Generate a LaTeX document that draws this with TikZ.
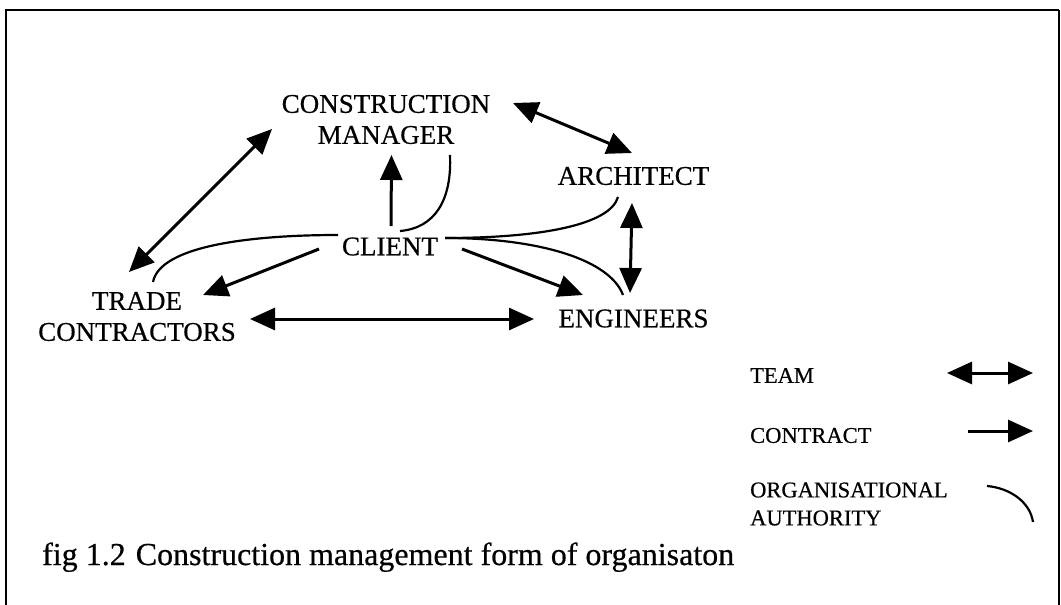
\documentclass[tikz,border=0pt]{standalone}
\usepackage{fontspec}
\setmainfont[FakeBold=0.5]{Liberation Serif}
\usetikzlibrary{arrows.meta,calc}
\tikzset{
  lbl/.style={inner sep=0pt,align=center,font=\fontsize{27}{31}\selectfont},
  leg/.style={inner sep=0pt,anchor=west,align=left,font=\fontsize{22.5}{28}\selectfont},
  team/.style={line width=3pt,{Triangle[length=25pt,width=22pt]}-{Triangle[length=25pt,width=22pt]}},
  contract/.style={line width=3pt,-{Triangle[length=25pt,width=22pt]}},
  authority/.style={line width=2.2pt}
}
\begin{document}
\begin{tikzpicture}[x=1pt,y=-1pt]
\useasboundingbox (0,0) rectangle (1061,605);
% frame
\draw[line width=2.5pt] (6,605) -- (6,10) -- (1059,10);
\draw[line width=1.8pt] (1059,10) -- (1059,605);
% nodes
\node[lbl] (cm) at (386,119.5) {CONSTRUCTION\\MANAGER};
\node[lbl] (arch) at (633.5,176) {ARCHITECT};
\node[lbl] (client) at (390,246.5) {CLIENT};
\node[lbl] (trade) at (137,316.5) {TRADE\\CONTRACTORS};
\node[lbl] (eng) at (633.5,318.5) {ENGINEERS};
% team links
\draw[team] ($(cm)+(-114,9.5)$) -- ($(trade)+(-8,-44.5)$);
\draw[team] ($(cm)+(127,-16.5)$) -- ($(arch)+(-1.5,-23)$);
\draw[team] ($(arch)+(-1.5,27)$) -- ($(eng)+(-3.5,-25.5)$);
\draw[team] ($(trade)+(113,2.5)$) -- ($(eng)+(-99.5,0.5)$);
% contracts
\draw[contract] ($(client)+(1,-20.5)$) -- ($(cm)+(5.5,35.5)$);
\draw[contract] ($(client)+(-71,2.5)$) -- ($(trade)+(66,-21.5)$);
\draw[contract] ($(client)+(72,2.5)$) -- ($(eng)+(-50.5,-23.5)$);
% organisational authority
\draw[authority] ($(cm)+(64,35.5)$) .. controls ($(cm)+(66,80.5)$) and ($(client)+(45,-18.5)$) .. ($(client)+(10,-15.5)$);
\draw[authority] ($(client)+(-52,-11.5)$) .. controls ($(client)+(-140,-11.5)$) and ($(trade)+(23,-70.5)$) .. ($(trade)+(16,-34.5)$);
\draw[authority] ($(client)+(55,-8.5)$) .. controls ($(client)+(150,-8.5)$) and ($(arch)+(-23.5,49)$) .. ($(arch)+(-15.5,21)$);
\draw[authority] ($(client)+(55,-8.5)$) .. controls ($(client)+(150,-8.5)$) and ($(eng)+(-23.5,-58.5)$) .. ($(eng)+(-10.5,-23.5)$);
% legend
\node[leg] (lteam) at (750,375.5) {TEAM};
\node[leg] (lcontract) at (750,435.5) {CONTRACT};
\node[leg] (lauth) at (750,504) {ORGANISATIONAL\\AUTHORITY};
\coordinate (t1) at (947,373);
\coordinate (t2) at (1033,373);
\coordinate (c1) at (968,431);
\coordinate (c2) at (1033,431);
\coordinate (o1) at (987,486);
\coordinate (o2) at (1033,522);
\draw[team] (t1) -- (t2);
\draw[contract] (c1) -- (c2);
\draw[authority] (o1) .. controls (1010,488) and (1030,502) .. (o2);
% caption
\node[inner sep=0pt,anchor=base west,font=\fontsize{32}{36}\selectfont] (caption) at (42,565) {fig 1.2\hspace{10pt}Construction management form of organisaton};
\end{tikzpicture}
\end{document}
